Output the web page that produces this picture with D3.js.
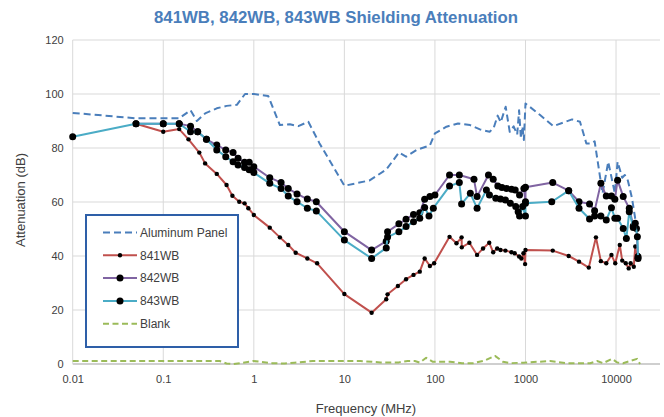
<!DOCTYPE html>
<html><head><meta charset="utf-8">
<script src="https://cdn.jsdelivr.net/npm/d3@7"></script>
<style>body{margin:0;background:#fff}svg{display:block;font-family:"Liberation Sans",Arial,sans-serif}</style>
</head><body><svg id="c" width="664" height="417"></svg>
<script>
const title = "841WB, 842WB, 843WB Shielding Attenuation";
const xTicks = [0.01, 0.1, 1, 10, 100, 1000, 10000];
const xTickLabels = ["0.01", "0.1", "1", "10", "100", "1000", "10000"];
const yTicks = [0, 20, 40, 60, 80, 100, 120];
const seriesNames = ["Aluminum Panel", "841WB", "842WB", "843WB", "Blank"];

const alumF = [0.01,0.05,0.1,0.15,0.2,0.235,0.29,0.39,0.5,0.65,0.8,1.0,1.44,1.94,2.5,3.1,4.0,5.3,10,19,29,40,48,63,88,100,134,180,244,314,402,446,493,533,604,670,740,810,850,890,925,960,1000,1450,2030,3270,4000,4700,5300,5800,7100,8200,9700,10400,11700,12500,13500,15000,16800,17500];
const alumDb = [93,91,91,91,94,90,92.8,94.7,95.6,96,100,100,99.3,88.5,88.8,88.1,89.7,81.8,66,68,72,78.3,76.8,79.3,81,85.4,87.9,89.1,88.5,86.9,86,87.5,92,89.5,95.3,86,88,85,94,83.5,88,83,96.5,92.2,88.1,90.6,89.7,81.7,81.7,82.5,63.2,74.9,63.2,74.9,69,70,68,61.4,51,49];

const w841F = [0.05,0.1,0.15,0.19,0.25,0.29,0.39,0.5,0.58,0.69,0.79,0.87,1.0,1.5,1.94,2.4,2.9,3.9,5.0,10,20,29,30,39,48,58,68,77,88,98,145,173,197,198,240,292,340,398,440,487,530,600,700,760,850,900,950,990,1000,2000,3000,3900,5000,6000,6800,7800,8900,9800,11000,11700,12800,13800,14500,15700,16300,17000,17500];
const w841Db = [89,86,87,83.2,78.3,74.3,70.4,66.3,62.3,60.1,59.5,57.7,55.2,50.5,46.9,44.1,41.2,39.1,37.3,25.9,19,24,25.8,28.9,31.4,33,34.2,39.1,36.3,37.3,47.1,44.7,46.9,43.2,44.9,40.4,42.8,44.9,41.4,42.8,42.2,42,41.4,41,39.8,39.1,41,37,42.2,42,40,37.9,35.7,46.9,38.1,37.3,40.4,37.3,44.1,38.3,37.3,35.4,37.3,36,43.5,39.1,40.4];

const w842F = [0.05,0.1,0.15,0.2,0.24,0.3,0.39,0.49,0.59,0.67,0.79,0.89,1.0,1.5,2.0,2.4,3.0,3.9,4.9,10,20,29,30,40,48,58,68,77,88,100,145,186,270,292,390,440,495,550,620,700,770,860,960,1000,1000,2000,3000,3900,5100,5800,6800,7800,8900,9700,10400,12000,14000,15500,16800,17500];
const w842Db = [89,89,89,88.1,86,83.2,81.1,79.3,78.3,76.2,74.7,74.7,73.1,69,67.2,65,63,61.1,60.1,49,42.2,45.5,49,51.9,53.6,55.4,56,61,62,62.6,70,70,68.4,62,70,68.4,65.9,65.4,65,64.7,64.4,62.6,65,60.1,65.5,67.2,64.2,60.1,59.3,56.8,66.9,62.2,62.2,61,68.1,62,57.7,51.1,50.2,39.7];

const w843F = [0.01,0.05,0.1,0.15,0.2,0.24,0.3,0.39,0.49,0.59,0.67,0.79,0.89,1.0,1.5,2.0,2.4,3.0,3.9,4.9,10,20,29,30,40,48,58,68,77,86,96,145,186,197,246,292,370,400,470,530,600,680,780,830,860,930,1000,1000,1950,3000,3900,5100,5800,6800,7800,8900,9700,10400,12000,13000,14000,15500,16300,17200,17500];
const w843Db = [84.2,89,89,89,86,86,83.2,79.3,76.8,74.9,73.7,72.8,71.9,70.9,66.9,65,62.2,60.1,57.7,56.7,45.9,39.1,43,47,49,50.9,52.7,54,58,54.8,57.7,65.9,67.2,59.3,63.2,57.7,64.4,62.6,61.4,61.1,60.7,59.5,58.3,56.4,54.8,58.3,54.8,59.5,60.1,64.2,57.7,53.7,54.8,54.8,53.3,57.9,54,54,50.2,46.5,56.4,50.6,52.1,47.1,39.1];

const blankF = [0.01,0.3,0.42,0.5,0.6,0.7,0.98,1.2,1.6,2.2,2.8,4.5,15,25,40,50,60,68,80,95,147,200,264,350,461,565,676,940,1870,2880,5170,6170,7190,9040,10260,11940,17050,18400];
const blankDb = [1.1,1.1,1.1,0.2,0,0.3,1.1,0.8,0.3,0.2,0.5,1.1,1.1,0.6,0.6,1.1,1.1,0.5,2.3,0.8,0.8,0.3,0.3,1.2,3,0.8,0.3,0.5,1.1,0.3,0.3,1.1,0.3,1.9,0.6,0.3,1.9,0];

const svg = d3.select("#c");
const x = d3.scaleLog().domain([0.01, 100000]).range([72.7, 706.6]);
const y = d3.scaleLinear().domain([0, 120]).range([364, 40]);
const gridRight = 660;

// grid
const g = svg.append("g");
g.selectAll(".hg").data(yTicks).join("line")
  .attr("x1", x(0.01)).attr("x2", gridRight)
  .attr("y1", d => y(d)).attr("y2", d => y(d))
  .attr("stroke", d => d === 0 ? "#bfbfbf" : "#d9d9d9").attr("stroke-width", d => d === 0 ? 1.5 : 1);
g.selectAll(".vg").data(xTicks).join("line")
  .attr("x1", d => x(d)).attr("x2", d => x(d))
  .attr("y1", y(120)).attr("y2", y(0))
  .attr("stroke", "#d9d9d9").attr("stroke-width", 1);

// axes labels
const yAxis = d3.axisLeft(y).tickValues(yTicks).tickSize(0).tickPadding(9);
const ya = svg.append("g").attr("transform", `translate(${x(0.01)},0)`).call(yAxis);
ya.select(".domain").remove();
ya.selectAll("text").attr("font-size", 11).attr("fill", "#404040").attr("font-family", "Liberation Sans, Arial, sans-serif");

const xAxis = d3.axisBottom(x).tickValues(xTicks).tickFormat((d, i) => xTickLabels[i]).tickSize(0).tickPadding(11);
const xa = svg.append("g").attr("transform", `translate(0,${y(0)})`).call(xAxis);
xa.select(".domain").remove();
xa.selectAll("text").attr("font-size", 11).attr("fill", "#404040").attr("font-family", "Liberation Sans, Arial, sans-serif");

svg.append("text").attr("x", 336).attr("y", 23).attr("text-anchor", "middle")
  .attr("font-size", 16.8).attr("font-weight", "bold").attr("fill", "#4a7ebb").text(title);
svg.append("text").attr("x", 366).attr("y", 413).attr("text-anchor", "middle")
  .attr("font-size", 13).attr("fill", "#404040").text("Frequency (MHz)");
svg.append("text").attr("transform", "translate(25,200) rotate(-90)").attr("text-anchor", "middle")
  .attr("font-size", 13).attr("fill", "#404040").text("Attenuation (dB)");

const line = d3.line().x(d => x(d[0])).y(d => y(d[1]));
const zip = (a, b) => a.map((v, i) => [v, b[i]]);

const series = [
  {name: seriesNames[0], data: zip(alumF, alumDb), color: "#4a7ebb", dash: "7,4", r: 0},
  {name: seriesNames[1], data: zip(w841F, w841Db), color: "#c0504d", dash: null, r: 2.2},
  {name: seriesNames[2], data: zip(w842F, w842Db), color: "#8064a2", dash: null, r: 3.5},
  {name: seriesNames[3], data: zip(w843F, w843Db), color: "#4bacc6", dash: null, r: 3.5},
  {name: seriesNames[4], data: zip(blankF, blankDb), color: "#9bbb59", dash: "6,3.5", r: 0}
];
const drawOrder = [4, 0, 1, 2, 3];
drawOrder.forEach(i => {
  const s = series[i];
  const gs = svg.append("g");
  gs.append("path").datum(s.data).attr("d", line).attr("fill", "none")
    .attr("stroke", s.color).attr("stroke-width", 2).attr("stroke-linejoin", "round")
    .attr("stroke-dasharray", s.dash);
  if (s.r > 0) {
    gs.selectAll("circle").data(s.data).join("circle")
      .attr("cx", d => x(d[0])).attr("cy", d => y(d[1])).attr("r", s.r).attr("fill", "#000");
  }
});

// legend
const lg = svg.append("g");
lg.append("rect").attr("x", 86).attr("y", 215).attr("width", 152).attr("height", 132)
  .attr("fill", "#fff").attr("stroke", "#2e5fa8").attr("stroke-width", 2);
series.forEach((s, i) => {
  const yy = 232.5 + i * 22.8;
  lg.append("line").attr("x1", 103).attr("x2", 137).attr("y1", yy).attr("y2", yy)
    .attr("stroke", s.color).attr("stroke-width", 2).attr("stroke-dasharray", s.dash);
  if (s.r > 0) lg.append("circle").attr("cx", 120).attr("cy", yy).attr("r", s.r).attr("fill", "#000");
  lg.append("text").attr("x", 140).attr("y", yy + 4.2).attr("font-size", 12).attr("fill", "#404040").text(s.name);
});
</script></body></html>
